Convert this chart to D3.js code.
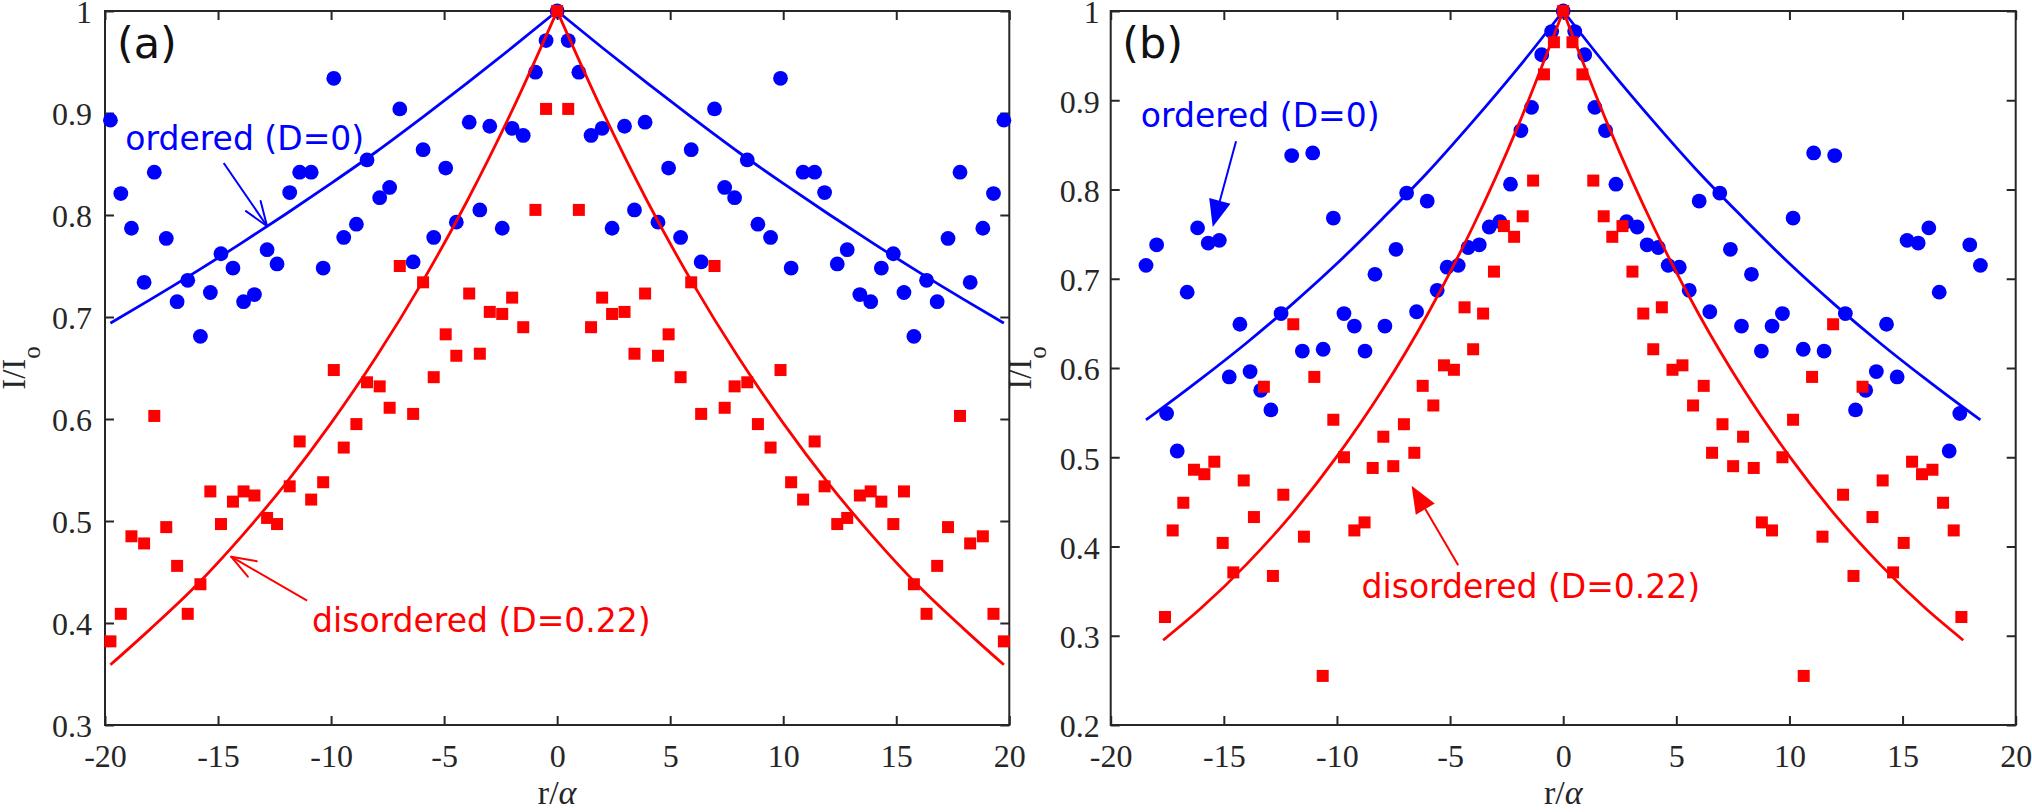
<!DOCTYPE html>
<html><head><meta charset="utf-8">
<script src="https://cdn.jsdelivr.net/npm/d3@7"></script>
<style>body{margin:0;background:#fff}svg{display:block}</style>
</head><body>
<svg id="chart" width="2032" height="812"></svg>
<script>
// ---------------- DATA ----------------
const xTicks = [-20, -15, -10, -5, 0, 5, 10, 15, 20];
const yTicksA = [0.3, 0.4, 0.5, 0.6, 0.7, 0.8, 0.9, 1];
const yTicksB = [0.2, 0.3, 0.4, 0.5, 0.6, 0.7, 0.8, 0.9, 1];

// panel (a): sample positions (shared by both series)
const rA = [-19.76, -19.30, -18.83, -18.27, -17.82, -17.29, -16.81, -16.34, -15.78, -15.34, -14.87, -14.34, -13.87, -13.39, -12.83, -12.39, -11.83, -11.39, -10.88, -10.35, -9.88, -9.44, -8.88, -8.41, -7.85, -7.41, -6.96, -6.37, -5.93, -5.46, -4.93, -4.46, -3.89, -3.42, -2.98, -2.43, -1.99, -1.50, -0.96, -0.49, 0,
  0.49, 0.96, 1.50, 1.99, 2.43, 2.98, 3.42, 3.89, 4.46, 4.93, 5.46, 5.93, 6.37, 6.96, 7.41, 7.85, 8.41, 8.88, 9.44, 9.88, 10.35, 10.88, 11.39, 11.83, 12.39, 12.83, 13.39, 13.87, 14.34, 14.87, 15.34, 15.78, 16.34, 16.81, 17.29, 17.82, 18.27, 18.83, 19.30, 19.76];
const orderedA = [0.893, 0.821, 0.787, 0.734, 0.842, 0.777, 0.715, 0.736, 0.681, 0.724, 0.762, 0.748, 0.715, 0.722, 0.766, 0.752, 0.822, 0.842, 0.842, 0.748, 0.934, 0.778, 0.791, 0.854, 0.817, 0.827, 0.904, 0.754, 0.864, 0.778, 0.846, 0.793, 0.891, 0.805, 0.887, 0.787, 0.885, 0.878, 0.940, 0.971, 1.0,
  0.971, 0.940, 0.878, 0.885, 0.787, 0.887, 0.805, 0.891, 0.793, 0.846, 0.778, 0.864, 0.754, 0.904, 0.827, 0.817, 0.854, 0.791, 0.778, 0.934, 0.748, 0.842, 0.842, 0.822, 0.752, 0.766, 0.722, 0.715, 0.748, 0.762, 0.724, 0.681, 0.736, 0.715, 0.777, 0.842, 0.734, 0.787, 0.821, 0.893];
const disorderedA = [0.382, 0.409, 0.485, 0.478, 0.603, 0.494, 0.456, 0.409, 0.438, 0.529, 0.497, 0.519, 0.529, 0.525, 0.503, 0.497, 0.534, 0.578, 0.521, 0.538, 0.648, 0.572, 0.595, 0.636, 0.632, 0.611, 0.750, 0.605, 0.734, 0.641, 0.683, 0.662, 0.723, 0.664, 0.705, 0.703, 0.719, 0.690, 0.805, 0.904, 1.0,
  0.904, 0.805, 0.690, 0.719, 0.703, 0.705, 0.664, 0.723, 0.662, 0.683, 0.641, 0.734, 0.605, 0.750, 0.611, 0.632, 0.636, 0.595, 0.572, 0.648, 0.538, 0.521, 0.578, 0.534, 0.497, 0.503, 0.525, 0.529, 0.519, 0.497, 0.529, 0.438, 0.409, 0.456, 0.494, 0.603, 0.478, 0.485, 0.409, 0.382];

// panel (a): fitted curves
const fitRA = [-19.76, -18, -16, -14, -12, -10, -8, -6, -4, -2, 0, 2, 4, 6, 8, 10, 12, 14, 16, 18, 19.76];
const fitOrderedA = [0.694, 0.717, 0.744, 0.772, 0.801, 0.831, 0.862, 0.895, 0.929, 0.964, 1.0, 0.964, 0.929, 0.895, 0.862, 0.831, 0.801, 0.772, 0.744, 0.717, 0.694];
const fitDisorderedA = [0.359, 0.394, 0.436, 0.484, 0.537, 0.596, 0.661, 0.733, 0.813, 0.902, 1.0, 0.902, 0.813, 0.733, 0.661, 0.596, 0.537, 0.484, 0.436, 0.394, 0.359];

// panel (b): ordered series
const rOrderedB = [-18.44, -17.97, -17.53, -17.06, -16.62, -16.16, -15.69, -15.20, -14.76, -14.29, -13.84, -13.37, -12.92, -12.47, -12.00, -11.53, -11.07, -10.61, -10.16, -9.69, -9.23, -8.76, -8.32, -7.88, -7.39, -6.92, -6.48, -6.01, -5.57, -5.13, -4.64, -4.20, -3.71, -3.27, -2.80, -2.33, -1.87, -1.40, -0.95, -0.51, 0,
  0.51, 0.95, 1.40, 1.87, 2.33, 2.80, 3.27, 3.71, 4.20, 4.64, 5.13, 5.57, 6.01, 6.48, 6.92, 7.39, 7.88, 8.32, 8.76, 9.23, 9.69, 10.16, 10.61, 11.07, 11.53, 12.00, 12.47, 12.92, 13.37, 13.84, 14.29, 14.76, 15.20, 15.69, 16.16, 16.62, 17.06, 17.53, 17.97, 18.44];
const orderedB = [0.715, 0.738, 0.549, 0.507, 0.685, 0.757, 0.740, 0.743, 0.590, 0.649, 0.596, 0.575, 0.553, 0.661, 0.838, 0.619, 0.841, 0.621, 0.768, 0.661, 0.647, 0.619, 0.705, 0.647, 0.733, 0.796, 0.663, 0.787, 0.687, 0.713, 0.715, 0.735, 0.738, 0.758, 0.764, 0.806, 0.866, 0.892, 0.951, 0.977, 1.0,
  0.977, 0.951, 0.892, 0.866, 0.806, 0.764, 0.758, 0.738, 0.735, 0.715, 0.713, 0.687, 0.787, 0.663, 0.796, 0.733, 0.647, 0.705, 0.619, 0.647, 0.661, 0.768, 0.621, 0.841, 0.619, 0.838, 0.661, 0.553, 0.575, 0.596, 0.649, 0.590, 0.743, 0.740, 0.757, 0.685, 0.507, 0.549, 0.738, 0.715];

// panel (b): disordered series
const rDisorderedB = [-17.60, -17.26, -16.79, -16.32, -15.86, -15.42, -15.05, -14.58, -14.12, -13.67, -13.23, -12.83, -12.37, -11.93, -11.46, -11.00, -10.63, -10.16, -9.69, -9.23, -8.78, -8.42, -7.95, -7.51, -7.04, -6.58, -6.21, -5.74, -5.27, -4.83, -4.36, -3.98, -3.54, -3.06, -2.62, -2.17, -1.79, -1.33, -0.85, -0.41, 0,
  0.41, 0.85, 1.33, 1.79, 2.17, 2.62, 3.06, 3.54, 3.98, 4.36, 4.83, 5.27, 5.74, 6.21, 6.58, 7.04, 7.51, 7.95, 8.42, 8.78, 9.23, 9.69, 10.16, 10.63, 11.00, 11.46, 11.93, 12.37, 12.83, 13.23, 13.67, 14.12, 14.58, 15.05, 15.42, 15.86, 16.32, 16.79, 17.26, 17.60];
const disorderedB = [0.321, 0.418, 0.449, 0.486, 0.481, 0.495, 0.404, 0.371, 0.474, 0.433, 0.579, 0.367, 0.458, 0.649, 0.411, 0.590, 0.255, 0.542, 0.500, 0.418, 0.427, 0.488, 0.523, 0.490, 0.537, 0.505, 0.580, 0.558, 0.603, 0.598, 0.668, 0.621, 0.661, 0.708, 0.759, 0.747, 0.770, 0.810, 0.929, 0.965, 1.0,
  0.965, 0.929, 0.810, 0.770, 0.747, 0.759, 0.708, 0.661, 0.621, 0.668, 0.598, 0.603, 0.558, 0.580, 0.505, 0.537, 0.490, 0.523, 0.488, 0.427, 0.418, 0.500, 0.542, 0.255, 0.590, 0.411, 0.649, 0.458, 0.367, 0.579, 0.433, 0.474, 0.371, 0.404, 0.495, 0.481, 0.486, 0.449, 0.418, 0.321];

// panel (b): fitted curves
const fitROrderedB = [-18.44, -18, -16, -14, -12, -10, -8, -6, -4, -2, 0, 2, 4, 6, 8, 10, 12, 14, 16, 18, 18.44];
const fitOrderedB = [0.542, 0.550, 0.588, 0.628, 0.671, 0.717, 0.767, 0.819, 0.876, 0.936, 1.0, 0.936, 0.876, 0.819, 0.767, 0.717, 0.671, 0.628, 0.588, 0.550, 0.542];
const fitRDisorderedB = [-17.68, -16, -14, -12, -10, -8, -6, -4, -2, 0, 2, 4, 6, 8, 10, 12, 14, 16, 17.68];
const fitDisorderedB = [0.295, 0.331, 0.380, 0.436, 0.501, 0.575, 0.660, 0.758, 0.871, 1.0, 0.871, 0.758, 0.660, 0.575, 0.501, 0.436, 0.380, 0.331, 0.295];

const labelOrdered = "ordered (D=0)";
const labelDisordered = "disordered (D=0.22)";

// ---------------- LAYOUT / STYLE ----------------
const BLUE = "#0000ff", RED = "#ff0000", AX = "#262626";
const SERIF = "'Liberation Serif', 'Times New Roman', serif";
const SANS = "'DejaVu Sans', sans-serif";

const panels = [
  { left: 105, right: 1009.3, top: 11, bottom: 725, yDomain: [0.3, 1], yTicks: yTicksA, yPad: 13, yLabelX: 25, tag: "(a)",
    blue: { r: rA, v: orderedA, fr: fitRA, fv: fitOrderedA },
    red:  { r: rA, v: disorderedA, fr: fitRA, fv: fitDisorderedA },
    ann: { tag: [-19.47, 0.954],
           ordText: [-19.1, 0.864], ordArrow: [[-14.75, 0.851], [-12.83, 0.789]],
           disText: [-10.84, 0.391], disArrow: [[-11.06, 0.422], [-14.42, 0.465]], filled: false } },
  { left: 1110.7, right: 2015.7, top: 11, bottom: 725, yDomain: [0.2, 1], yTicks: yTicksB, yPad: 11, yLabelX: 1031, tag: "(b)",
    blue: { r: rOrderedB, v: orderedB, fr: fitROrderedB, fv: fitOrderedB },
    red:  { r: rDisorderedB, v: disorderedB, fr: fitRDisorderedB, fv: fitDisorderedB },
    ann: { tag: [-19.49, 0.947],
           ordText: [-18.67, 0.870], ordArrow: [[-14.46, 0.854], [-15.49, 0.758]],
           disText: [-8.91, 0.342], disArrow: [[-4.64, 0.379], [-6.70, 0.468]], filled: true } }
];

const svg = d3.select("#chart");
svg.append("rect").attr("width", 2032).attr("height", 812).attr("fill", "#fff");

function drawArrow(g, p1, p2, color, filled) {
  const [x1, y1] = p1, [x2, y2] = p2;
  const ang = Math.atan2(y2 - y1, x2 - x1);
  if (!filled) {
    const L = 26, a = 20 * Math.PI / 180;
    g.append("line").attr("x1", x1).attr("y1", y1).attr("x2", x2).attr("y2", y2)
      .attr("stroke", color).attr("stroke-width", 2);
    [ang + a, ang - a].forEach(t => {
      g.append("line").attr("x1", x2).attr("y1", y2)
        .attr("x2", x2 - L * Math.cos(t)).attr("y2", y2 - L * Math.sin(t))
        .attr("stroke", color).attr("stroke-width", 2).attr("stroke-linecap", "round");
    });
  } else {
    const L = 27, w = 11;
    const bx = x2 - L * Math.cos(ang), by = y2 - L * Math.sin(ang);
    g.append("line").attr("x1", x1).attr("y1", y1).attr("x2", bx).attr("y2", by)
      .attr("stroke", color).attr("stroke-width", 2);
    const px = -Math.sin(ang), py = Math.cos(ang);
    g.append("path").attr("d", d3.line()([[x2, y2], [bx + w * px, by + w * py], [bx - w * px, by - w * py]]) + "Z")
      .attr("fill", color);
  }
}

panels.forEach(cfg => {
  const x = d3.scaleLinear().domain([-20, 20]).range([cfg.left, cfg.right]);
  const y = d3.scaleLinear().domain(cfg.yDomain).range([cfg.bottom, cfg.top]);
  const g = svg.append("g");
  const fmt = d => String(d);

  const styleAxis = sel => {
    sel.select(".domain").remove();
    sel.selectAll(".tick line").attr("stroke", AX).attr("stroke-width", 2);
    sel.selectAll(".tick text").attr("fill", AX).style("font-family", SERIF).style("font-size", "32px");
  };

  g.append("g").attr("transform", `translate(0,${cfg.bottom})`)
    .call(d3.axisBottom(x).tickValues(xTicks).tickSize(-9).tickPadding(19).tickFormat(fmt)).call(styleAxis);
  g.append("g").attr("transform", `translate(0,${cfg.top})`)
    .call(d3.axisTop(x).tickValues(xTicks).tickSize(-9).tickFormat("")).call(styleAxis);
  g.append("g").attr("transform", `translate(${cfg.left},0)`)
    .call(d3.axisLeft(y).tickValues(cfg.yTicks).tickSize(-9).tickPadding(cfg.yPad).tickFormat(fmt))
    .call(styleAxis)
    .call(sel => sel.selectAll(".tick text").attr("dy", "0.37em"));
  g.append("g").attr("transform", `translate(${cfg.right},0)`)
    .call(d3.axisRight(y).tickValues(cfg.yTicks).tickSize(-9).tickFormat("")).call(styleAxis);

  g.append("rect").attr("x", cfg.left).attr("y", cfg.top)
    .attr("width", cfg.right - cfg.left).attr("height", cfg.bottom - cfg.top)
    .attr("fill", "none").attr("stroke", AX).attr("stroke-width", 2);

  // blue markers
  g.append("g").selectAll("circle").data(d3.zip(cfg.blue.r, cfg.blue.v)).join("circle")
    .attr("cx", d => x(d[0])).attr("cy", d => y(d[1])).attr("r", 7.4).attr("fill", BLUE);

  // fitted curves (two monotone halves each so the cusp at r=0 stays sharp)
  const lineGen = d3.line().x(d => x(d[0])).y(d => y(d[1])).curve(d3.curveMonotoneX);
  const drawFit = (fr, fv, color) => {
    const pts = d3.zip(fr, fv);
    const leftHalf = pts.filter(p => p[0] <= 0), rightHalf = pts.filter(p => p[0] >= 0);
    [leftHalf, rightHalf].forEach(h => g.append("path").attr("d", lineGen(h))
      .attr("fill", "none").attr("stroke", color).attr("stroke-width", 2.8));
  };
  drawFit(cfg.blue.fr, cfg.blue.fv, BLUE);
  drawFit(cfg.red.fr, cfg.red.fv, RED);

  // red markers
  const s = 12;
  g.append("g").selectAll("rect").data(d3.zip(cfg.red.r, cfg.red.v)).join("rect")
    .attr("x", d => x(d[0]) - s / 2).attr("y", d => y(d[1]) - s / 2)
    .attr("width", s).attr("height", s).attr("fill", RED);

  // annotations
  const A = cfg.ann;
  const P = p => [x(p[0]), y(p[1])];
  g.append("text").attr("x", x(A.tag[0])).attr("y", y(A.tag[1])).text(cfg.tag)
    .style("font-family", SANS).style("font-size", "43px").attr("fill", "#111");
  g.append("text").attr("x", x(A.ordText[0])).attr("y", y(A.ordText[1])).text(labelOrdered)
    .style("font-family", SANS).style("font-size", "33px").attr("fill", BLUE);
  drawArrow(g, P(A.ordArrow[0]), P(A.ordArrow[1]), BLUE, A.filled);
  g.append("text").attr("x", x(A.disText[0])).attr("y", y(A.disText[1])).text(labelDisordered)
    .style("font-family", SANS).style("font-size", "33px").attr("fill", RED);
  drawArrow(g, P(A.disArrow[0]), P(A.disArrow[1]), RED, A.filled);

  // axis labels
  const xl = g.append("text").attr("x", (cfg.left + cfg.right) / 2).attr("y", 804)
    .attr("text-anchor", "middle").style("font-family", SERIF).style("font-size", "34px").attr("fill", AX);
  xl.append("tspan").text("r/");
  xl.append("tspan").text("α").style("font-style", "italic");

  const cy = (cfg.top + cfg.bottom) / 2;
  const yl = g.append("text").attr("transform", `translate(${cfg.yLabelX},${cy}) rotate(-90)`)
    .attr("text-anchor", "middle").style("font-family", SERIF).style("font-size", "33px").attr("fill", AX);
  yl.append("tspan").text("I/I");
  yl.append("tspan").text("o").attr("dy", 15).style("font-size", "25px");
});
</script>
</body></html>
